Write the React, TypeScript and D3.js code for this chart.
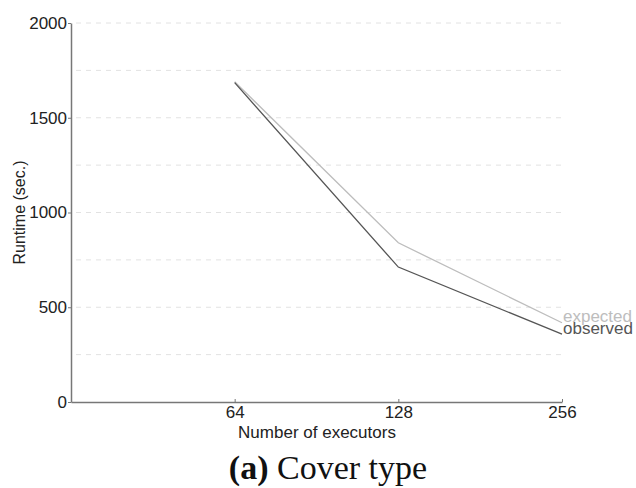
import React, { useRef, useEffect } from 'react';
import * as d3 from 'd3';

const executors = [64, 128, 256];
const expected = [1690, 840, 418];
const observed = [1685, 712, 358];
const yTicks = [0, 500, 1000, 1500, 2000];
const gridValues = [250, 500, 750, 1000, 1250, 1500, 1750, 2000];

function App() {
  const svgRef = useRef<SVGSVGElement>(null);

  useEffect(() => {
    const svg = d3.select(svgRef.current);
    svg.selectAll('*').remove();

    const x = d3.scaleLog().base(2).domain([32, 256]).range([71, 562]);
    const y = d3.scaleLinear().domain([0, 2000]).range([402, 23]);
    const font = "'Liberation Sans', Arial, sans-serif";

    // grid
    svg.append('g')
      .selectAll('line')
      .data(gridValues)
      .join('line')
        .attr('x1', 76).attr('x2', 562)
        .attr('y1', d => y(d)).attr('y2', d => y(d))
        .attr('stroke', '#e2e2e2')
        .attr('stroke-width', 1)
        .attr('stroke-dasharray', '5,5');

    // y axis
    const yAxis = svg.append('g')
      .attr('transform', 'translate(71,0)')
      .call(d3.axisLeft(y).tickValues(yTicks).tickFormat(d3.format('d')).tickSize(3).tickSizeOuter(0).tickPadding(1));
    yAxis.select('.domain').attr('stroke', '#777').attr('stroke-width', 1.5);
    yAxis.selectAll('.tick line').attr('stroke', '#777');
    yAxis.selectAll('text').attr('font-family', font).attr('font-size', 17).attr('fill', '#222');

    // x axis
    const xAxis = svg.append('g')
      .attr('transform', 'translate(0,402)')
      .call(d3.axisBottom(x).tickValues(executors).tickFormat(d3.format('d')).tickSize(-3).tickSizeOuter(0).tickPadding(4));
    xAxis.select('.domain').attr('stroke', '#777').attr('stroke-width', 1.5);
    xAxis.selectAll('.tick line').attr('stroke', '#777');
    xAxis.selectAll('text').attr('font-family', font).attr('font-size', 17).attr('fill', '#222');

    const line = d3.line<number>()
      .x((_, i) => x(executors[i]))
      .y(d => y(d));

    const series = [
      { name: 'expected', values: expected, color: '#bdbdbd', dy: -1 },
      { name: 'observed', values: observed, color: '#555', dy: 0 },
    ];

    series.forEach(s => {
      svg.append('path')
        .datum(s.values)
        .attr('fill', 'none')
        .attr('stroke', s.color)
        .attr('stroke-width', 1.3)
        .attr('d', line);
      svg.append('text')
        .attr('x', x(256) + 1)
        .attr('y', y(s.values[2]) + s.dy)
        .attr('font-family', font)
        .attr('font-size', 17)
        .attr('fill', s.color)
        .text(s.name);
    });

    svg.append('text')
      .attr('transform', `translate(25,${y(1000)}) rotate(-90)`)
      .attr('text-anchor', 'middle')
      .attr('font-family', font)
      .attr('font-size', 16)
      .attr('fill', '#222')
      .text('Runtime (sec.)');

    svg.append('text')
      .attr('x', 317).attr('y', 438)
      .attr('text-anchor', 'middle')
      .attr('font-family', font)
      .attr('font-size', 17)
      .attr('fill', '#222')
      .text('Number of executors');

    const cap = svg.append('text')
      .attr('x', 328).attr('y', 479)
      .attr('text-anchor', 'middle')
      .attr('font-family', "'Liberation Serif', serif")
      .attr('font-size', 34)
      .attr('fill', '#111');
    cap.append('tspan').attr('font-weight', 'bold').text('(a)');
    cap.append('tspan').text(' Cover type');
  }, []);

  return (
    <svg ref={svgRef} width={636} height={488}
      style={{ position: 'absolute', left: 0, top: 0, background: '#fff' }} />
  );
}

export default App;
